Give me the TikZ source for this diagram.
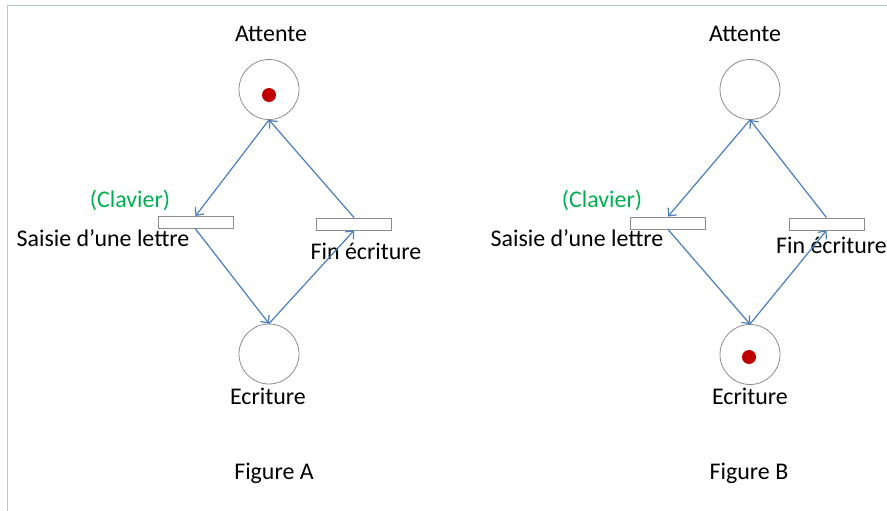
\documentclass[tikz,border=0pt]{standalone}
\usepackage{fontspec}
\setmainfont{Carlito}
\usetikzlibrary{arrows.meta}
\definecolor{arccol}{HTML}{4A7EBB}
\definecolor{framecol}{HTML}{B4C6DC}
\definecolor{tokcol}{HTML}{C00000}
\definecolor{clavcol}{HTML}{00B050}
\definecolor{shapecol}{HTML}{8C8C8C}
\begin{document}
\begin{tikzpicture}[x=1pt,y=-1pt,
 place/.style={circle,draw=shapecol,line width=0.8pt,minimum size=60pt,inner sep=0pt},
 trans/.style={rectangle,draw=shapecol,line width=0.9pt,minimum width=75pt,minimum height=12pt,inner sep=0pt},
 token/.style={circle,fill=tokcol,minimum size=14pt,inner sep=0pt},
 arc/.style={draw=arccol,line width=1.2pt,-{Straight Barb[length=6pt,width=11pt]}},
 lbl/.style={anchor=base,font=\fontsize{23.9}{28}\selectfont,inner sep=0pt}]
\useasboundingbox (0,0) rectangle (887,511);
\draw[framecol,line width=1pt] (7,511) -- (7,6) -- (887,6);

% Figure A
\node[place] (atA) at (269,89.5) {};
\node[token] (tkA) at (269,95) {};
\node[place] (ecA) at (269,354) {};
\node[trans] (saA) at (195.5,222.5) {};
\node[trans] (fiA) at (354,224) {};
\node[lbl] (lAtA) at (271,42) {Attente};
\node[lbl,text=clavcol] (lClA) at (130,207) {(Clavier)};
\node[lbl] (lSaA) at (103,246) {Saisie d’une lettre};
\node[lbl] (lFiA) at (366,259) {Fin écriture};
\node[lbl] (lEcA) at (268,404) {Ecriture};
\node[lbl] (lFgA) at (274,479) {Figure A};
\draw[arc] (atA.south) -- (saA.north);
\draw[arc] (fiA.north) -- (atA.south);
\draw[arc] (saA.south) -- (ecA.north);
\draw[arc] (ecA.north) -- (fiA.south);

% Figure B
\node[place] (atB) at (750,89.5) {};
\node[place] (ecB) at (750,354.5) {};
\node[token] (tkB) at (749,357) {};
\node[trans] (saB) at (668,223) {};
\node[trans] (fiB) at (826.5,224) {};
\node[lbl] (lAtB) at (745,42) {Attente};
\node[lbl,text=clavcol] (lClB) at (602,207) {(Clavier)};
\node[lbl] (lSaB) at (577,246) {Saisie d’une lettre};
\node[lbl] (lFiB) at (831.5,253) {Fin écriture};
\node[lbl] (lEcB) at (750,404) {Ecriture};
\node[lbl] (lFgB) at (749,479) {Figure B};
\draw[arc] (atB.south) -- (saB.north);
\draw[arc] (fiB.north) -- (atB.south);
\draw[arc] (saB.south) -- (ecB.north);
\draw[arc] (ecB.north) -- (fiB.south);
\end{tikzpicture}
\end{document}
